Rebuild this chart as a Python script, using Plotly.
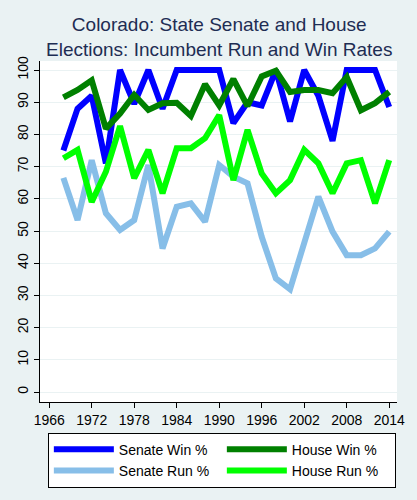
import plotly.graph_objects as go

years = list(range(1968, 2015, 2))

senate_win = [75, 88, 92, 71, 100, 89.5, 100, 88, 100, 100, 100, 100,
              83.5, 90, 89, 100, 84, 100, 92, 78, 100, 100, 100, 88.5]
house_win = [91.5, 93.8, 96.8, 81.8, 86.5, 92.3, 87.6, 89.7, 89.8, 85.7, 95.6, 89,
             97.2, 88.8, 98, 99.8, 93.2, 93.8, 93.8, 92.8, 97.8, 87.5, 89.7, 93.2]
senate_run = [66.5, 53.4, 72, 55.5, 50.3, 53.4, 70.5, 44.6, 57.5, 58.6, 52.9, 70.5,
              66.9, 64.8, 48.2, 35.3, 31.9, 46.2, 60.7, 49.8, 42.5, 42.5, 44.6, 49.8]
house_run = [72.6, 75.2, 59, 68.4, 82.6, 66.4, 75.2, 61.7, 75.7, 75.7, 78.8, 86,
             65.8, 81.4, 67.9, 61.7, 65.8, 75.2, 71, 61.7, 71, 72, 58.6, 72]

x_ticks = list(range(1966, 2015, 6))
y_ticks = list(range(0, 101, 10))

series = [
    ("Senate Win %", senate_win, "#0000ff"),
    ("House Win %", house_win, "#008000"),
    ("Senate Run %", senate_run, "#87bee8"),
    ("House Run %", house_run, "#00ff00"),
]

fig = go.Figure()
for name, vals, color in series:
    fig.add_trace(go.Scatter(x=years, y=vals, name=name, mode="lines",
                             line=dict(color=color, width=6)))

font = "Liberation Sans, Arial, sans-serif"
fig.update_layout(
    width=417, height=500,
    margin=dict(l=40, r=17, t=61, b=98),
    paper_bgcolor="#eaf2f3",
    plot_bgcolor="white",
    font=dict(family=font, size=14, color="black"),
    showlegend=True,
    legend=dict(orientation="h", x=0.022, y=-0.09, xanchor="left", yanchor="top",
                bgcolor="white", bordercolor="black", borderwidth=1,
                itemwidth=60, entrywidth=98, font=dict(size=14),
                traceorder="normal"),
    annotations=[
        dict(text="Colorado: State Senate and House<br>Elections: Incumbent Run and Win Rates",
             xref="paper", yref="paper", x=0.5, y=(402 - 37) / 341,
             showarrow=False, yanchor="middle",
             font=dict(size=19, color="#1e2d53")),
    ],
)
fig.update_xaxes(range=[1964.7, 2015.1], tickvals=x_ticks, showgrid=False,
                 showline=True, linecolor="black", ticks="outside", ticklen=5,
                 tickcolor="black", zeroline=False)
fig.update_yaxes(range=[-3.1, 102.8], tickvals=y_ticks, showgrid=True,
                 gridcolor="#eaf2f3", showline=True, linecolor="black",
                 ticks="outside", ticklen=5, tickcolor="black", zeroline=False,
                 tickangle=-90)

# drop the browser's default page margin so the figure fills the window
fig.write_html("out.html", config={"displayModeBar": False},
               post_script="document.body.style.margin='0';"
                           "document.body.style.background='#eaf2f3';")
